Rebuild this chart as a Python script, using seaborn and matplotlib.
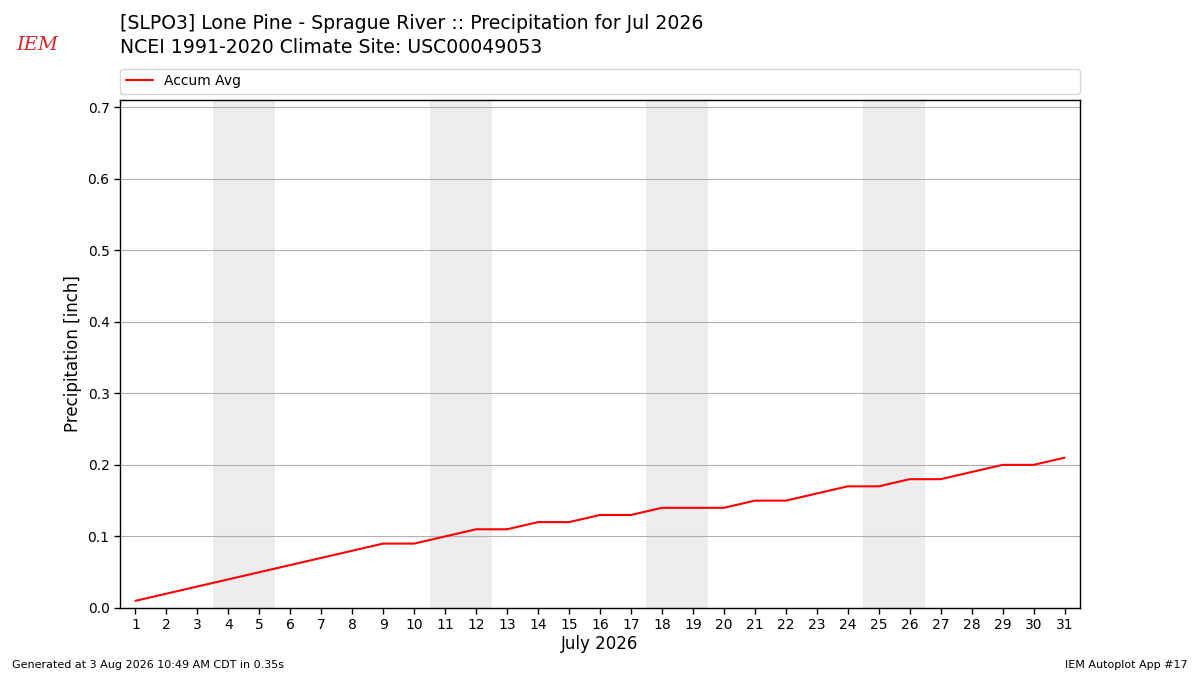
import numpy as np
import pandas as pd
import matplotlib
matplotlib.use("Agg")
import matplotlib.pyplot as plt
import seaborn as sns

days = list(range(1, 32))
accum_avg = [0.01, 0.02, 0.03, 0.04, 0.05, 0.06, 0.07, 0.08, 0.09, 0.09,
             0.10, 0.11, 0.11, 0.12, 0.12, 0.13, 0.13, 0.14, 0.14, 0.14,
             0.15, 0.15, 0.16, 0.17, 0.17, 0.18, 0.18, 0.19, 0.20, 0.20, 0.21]
weekends = [4, 11, 18, 25]

df = pd.DataFrame({"day": days, "precip": accum_avg})

sns.set_style("white")
plt.rcParams["font.family"] = ["DejaVu Sans"]
plt.rcParams["text.color"] = "black"
plt.rcParams["axes.labelcolor"] = "black"
plt.rcParams["xtick.color"] = "black"
plt.rcParams["ytick.color"] = "black"

fig = plt.figure(figsize=(12, 6.75), dpi=100)
ax = fig.add_axes([0.1, 0.0993, 0.8, 0.7526])

for d in weekends:
    ax.axvspan(d - 0.5, d + 1.5, color="#ededed", zorder=0, lw=0)

sns.lineplot(data=df, x="day", y="precip", color="red", lw=1.5, ax=ax,
             label="Accum Avg", zorder=3)

ax.set_xlim(0.5, 31.5)
ax.set_ylim(0, 0.71)
ax.set_xticks(days)
ax.set_xticklabels([str(d) for d in days])
ax.set_yticks(np.arange(0, 0.71, 0.1))
ax.yaxis.grid(True, color="#b0b0b0", lw=0.8)
ax.set_axisbelow(True)
ax.tick_params(axis="both", direction="out", length=4, width=1, labelsize=10,
               bottom=True, left=True)
for s in ax.spines.values():
    s.set_color("black")
    s.set_linewidth(1)
ax.set_xlabel("July 2026", fontsize=12, labelpad=2)
ax.set_ylabel("Precipitation [inch]", fontsize=12)

ax.legend(loc="lower left", bbox_to_anchor=(0, 1.012, 1, 0.05), mode="expand",
          ncol=1, fontsize=10, frameon=True, borderaxespad=0)

fig.text(0.1, 0.965, "[SLPO3] Lone Pine - Sprague River :: Precipitation for Jul 2026",
         fontsize=13.6, va="center", ha="left")
fig.text(0.1, 0.93, "NCEI 1991-2020 Climate Site: USC00049053",
         fontsize=13.6, va="center", ha="left")

fig.text(0.031, 0.933, "IEM", color="#d62728", fontsize=14, style="italic",
         family="serif", ha="center", va="center")

fig.text(0.01, 0.011, "Generated at 3 Aug 2026 10:49 AM CDT in 0.35s", fontsize=8)
fig.text(0.99, 0.011, "IEM Autoplot App #17", fontsize=8, ha="right")

fig.savefig("out.png", dpi=100)
